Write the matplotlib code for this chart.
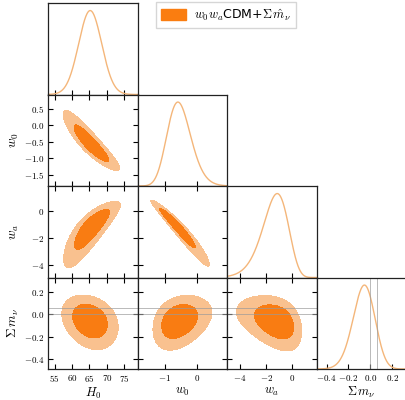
import numpy as np
import matplotlib
matplotlib.use("Agg")
import matplotlib.pyplot as plt
from matplotlib.patches import Patch
from matplotlib.ticker import FixedLocator, FuncFormatter

plt.rcParams["mathtext.fontset"] = "cm"

# Posterior summary for each parameter: centre, width and skewness of the
# marginal (skewed-normal model in a latent Gaussian space).
axis_labels = [r"$H_0$", r"$w_0$", r"$w_a$", r"$\Sigma\, m_\nu$"]
centres = [65.2, -0.55, -1.35, -0.06]
widths = [3.3, 0.37, 1.0, 0.10]
skews = [0.0, -0.12, 0.20, 0.06]

# Pairwise correlations between parameters (i, j)
correlations = {
    (0, 1): -0.90,
    (0, 2): 0.82,
    (1, 2): -0.965,
    (0, 3): -0.25,
    (1, 3): 0.30,
    (2, 3): -0.35,
}

# Plot ranges and ticks
ranges = [(53.1, 78.8), (-1.84, 0.93), (-4.95, 1.85), (-0.49, 0.33)]
xticks = [[55, 60, 65, 70, 75], [-1, 0], [-4, -2, 0], [-0.4, -0.2, 0.0, 0.2]]
yticks = [None, [-1.5, -1.0, -0.5, 0.0, 0.5], [-4, -2, 0], [-0.4, -0.2, 0.0, 0.2]]
xfmt = ["{:d}", "{:d}", "{:d}", "{:.1f}"]
yfmt = [None, "{:.1f}", "{:d}", "{:.1f}"]

# Neutrino-mass reference values
mnu_lines = [0.0, 0.06]

legend_label = r"$w_0w_a$CDM+$\Sigma\,\hat{m}_\nu$"
contour_levels = [0.68, 0.95]

c_inner = "#f97c12"
c_outer = "#f9c18f"
c_line = "#f4b67a"
c_legend = "#fa7d10"


def to_latent(x, m, s, a):
    if a == 0:
        return (x - m) / s, np.full_like(x, 1.0 / s)
    u = 1.0 - a * (x - m) / s
    ok = u > 0
    uu = np.where(ok, u, 1.0)
    z = np.where(ok, -np.log(uu) / a, np.nan)
    jac = np.where(ok, 1.0 / (s * uu), 0.0)
    return z, jac


def density_1d(i, x):
    z, j = to_latent(x, centres[i], widths[i], skews[i])
    p = np.where(np.isnan(z), 0.0, np.exp(-0.5 * np.nan_to_num(z) ** 2) * j)
    return p / p.max()


def density_2d(i, j, X, Y):
    rho = correlations[(min(i, j), max(i, j))]
    zx, jx = to_latent(X, centres[i], widths[i], skews[i])
    zy, jy = to_latent(Y, centres[j], widths[j], skews[j])
    bad = np.isnan(zx) | np.isnan(zy)
    zx = np.nan_to_num(zx)
    zy = np.nan_to_num(zy)
    q = (zx ** 2 - 2 * rho * zx * zy + zy ** 2) / (1 - rho ** 2)
    p = np.exp(-0.5 * q) * jx * jy
    p[bad] = 0.0
    return p


def hpd_levels(p, fracs):
    flat = np.sort(p.ravel())[::-1]
    cum = np.cumsum(flat)
    cum /= cum[-1]
    return [flat[np.searchsorted(cum, f)] for f in fracs]


W, H = 405, 400
fig = plt.figure(figsize=(W / 100, H / 100), dpi=100)

left_px, top_px = 48.0, 3.0
pw, ph = 89.6, 91.5
n = 4

axes = {}
for r in range(n):
    for c in range(r + 1):
        x0 = (left_px + c * pw) / W
        y0 = 1 - (top_px + (r + 1) * ph) / H
        ax = fig.add_axes([x0, y0, pw / W, ph / H])
        axes[(r, c)] = ax


def make_formatter(f):
    if "d" in f:
        return FuncFormatter(lambda v, p: "$" + f.format(int(round(v))) + "$")
    return FuncFormatter(lambda v, p: "$" + f.format(v) + "$")


for (r, c), ax in axes.items():
    for sp in ax.spines.values():
        sp.set_linewidth(0.9)
        sp.set_color("#222222")
    ax.set_xlim(*ranges[c])
    ax.xaxis.set_major_locator(FixedLocator(xticks[c]))
    if r == c:
        # 1D marginal
        xs = np.linspace(ranges[c][0], ranges[c][1], 600)
        ax.plot(xs, density_1d(c, xs), color=c_line, lw=1.0)
        ax.set_ylim(0, 1.09)
        ax.set_yticks([])
        ax.tick_params(axis="x", direction="in", length=3.5, width=0.8,
                       top=False, bottom=True)
        if c == 3:
            for v in mnu_lines:
                ax.axvline(v, color="#9a9a9a", lw=0.6, alpha=0.8)
    else:
        span_x = ranges[c][1] - ranges[c][0]
        span_y = ranges[r][1] - ranges[r][0]
        xs = np.linspace(ranges[c][0] - 0.6 * span_x, ranges[c][1] + 0.6 * span_x, 420)
        ys = np.linspace(ranges[r][0] - 0.6 * span_y, ranges[r][1] + 0.6 * span_y, 420)
        X, Y = np.meshgrid(xs, ys)
        P = density_2d(c, r, X, Y)
        l68, l95 = hpd_levels(P, contour_levels)
        ax.contourf(X, Y, P, levels=[l95, l68, P.max() * 1.01],
                    colors=[c_outer, c_inner])
        ax.set_ylim(*ranges[r])
        ax.yaxis.set_major_locator(FixedLocator(yticks[r]))
        ax.tick_params(axis="both", direction="in", length=3.5, width=0.8,
                       top=True, right=True, bottom=True, left=True)
        if r == 3:
            for v in mnu_lines:
                ax.axhline(v, color="#9a9a9a", lw=0.6, alpha=0.8)

    # tick labels
    if r == n - 1:
        ax.xaxis.set_major_formatter(make_formatter(xfmt[c]))
        ax.tick_params(axis="x", labelsize=6.5, pad=3)
        ax.set_xlabel(axis_labels[c], fontsize=9, labelpad=1)
    else:
        ax.set_xticklabels([])
    if c == 0 and r > 0:
        ax.yaxis.set_major_formatter(make_formatter(yfmt[r]))
        ax.tick_params(axis="y", labelsize=6.5, pad=3)
        ax.set_ylabel(axis_labels[r], fontsize=9.5, labelpad=3)
    elif r != c:
        ax.set_yticklabels([])

# align left-column labels
for r in range(1, n):
    axes[(r, 0)].yaxis.set_label_coords(-0.3, 0.5)

handle = Patch(facecolor=c_legend, edgecolor=c_legend)
fig.legend([handle], [legend_label], loc="upper left",
           bbox_to_anchor=(156 / W, 1 - 2 / H), borderaxespad=0,
           fontsize=9, frameon=True, fancybox=False, edgecolor="#cccccc",
           handlelength=2.0, handleheight=0.9, borderpad=0.4,
           handletextpad=0.6)

fig.savefig("out.png", dpi=100)
